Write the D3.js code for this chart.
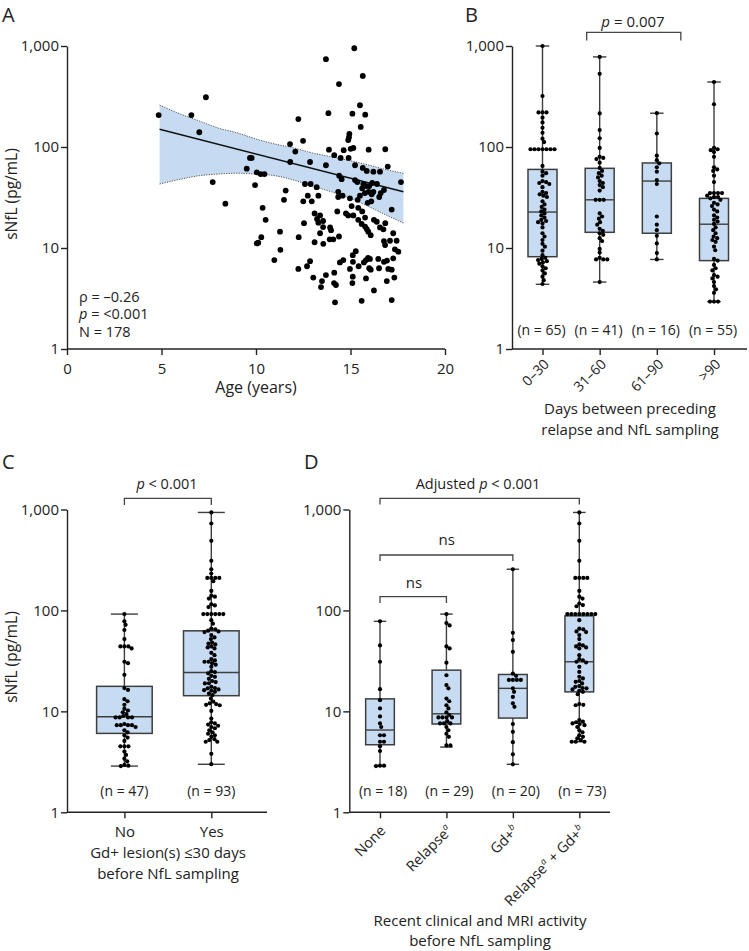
<!DOCTYPE html>
<html><head><meta charset="utf-8">
<script src="https://cdn.jsdelivr.net/npm/d3@7"></script>
<style>
body{margin:0;background:#fff}
svg{display:block}
text{font-family:"Open Sans",sans-serif;fill:#222}
</style>
</head><body>
<svg id="c" width="749" height="951"></svg>
<script>
// ---------------- DATA ----------------
const yTicks = [1, 10, 100, 1000];
const xTicksA = [0, 5, 10, 15, 20];

// Panel A scatter: age (years) and sNfL (pg/mL)
const ageA = [4.85,6.58,7.35,7.0,7.71,8.38,9.51,9.68,9.77,10.04,10.25,10.45,9.95,10.35,10.51,10.28,10.04,10.12,10.97,11.29,
11.27,11.48,11.57,11.8,11.81,12.08,12.24,12.49,12.26,12.24,12.54,12.59,12.89,13.21,12.5,12.74,12.95,13.3,12.86,12.7,
12.86,13.03,13.1,13.1,13.39,13.23,13.3,13.55,13.55,13.39,13.49,13.44,13.7,13.56,13.7,13.83,13.7,14.39,13.86,13.92,
13.97,13.9,14.09,14.18,14.14,14.13,14.23,14.14,14.3,14.35,14.35,14.4,14.53,14.44,14.48,14.64,14.58,14.39,14.62,14.76,
14.88,14.94,14.92,14.88,14.9,15.01,15.15,15.06,15.15,14.97,15.12,15.28,15.13,15.12,15.1,15.1,15.2,15.24,15.24,15.41,
15.41,15.62,15.38,15.5,15.62,15.36,15.68,15.86,15.43,15.5,15.54,15.65,15.65,15.59,15.77,15.86,15.94,16.07,15.59,15.99,
15.76,15.96,16.12,15.82,15.93,15.71,16.03,15.99,16.07,15.78,15.86,15.82,15.96,16.21,16.56,16.21,16.24,16.39,16.24,16.52,
16.6,16.77,16.51,16.47,16.56,16.74,16.84,16.77,16.93,17.0,16.77,16.83,16.84,16.97,17.09,17.18,17.18,16.92,17.32,17.18,
17.26,17.44,17.35,17.53,17.26,17.67,16.15,16.4,16.1,15.91,15.77,14.97];
const nflA = [207,207,311,140,45,27.5,61,78,78,56,54,54,42,25,19,12.8,11.1,11.3,7.6,9.6,
14.5,30,37,107,71,90,189,115,12.8,6.2,17.6,43,43,40,29,33,29,33,71,6.6,
7.4,5.1,11.4,22,21,19.4,17.8,18.5,16.1,14,4.7,4.1,5.4,11,66,216,740,420,94,16,
15,12.2,12.2,2.9,83,4.5,4.3,5.7,23,36,32,52,48,7.2,78,93,33,13,7.6,22,
21,135,125,117,78,96,98,26,21,31,8.5,9.3,7.3,5.2,4.5,214,950,66,47,19,
25,23,30,33,39,45,43,41,6.6,259,158,505,62,17.3,16.3,15.4,14.5,13.4,3.0,41,
35,36,34,7.6,8.0,7.2,7.8,6.3,6.1,209,58,5.0,94,57,57,36,19,18.2,3.8,32,
35,37.5,6.3,7.8,16,15.3,17.6,7.3,7.5,6.2,11.7,10.7,95,64,11.8,24,6.1,4.7,5.1,3.05,
14,11.8,9.7,9.2,7.9,45,44,43,29,28,20,6.2];

// Panel A regression line and confidence band
const fitAge = [4.9, 17.8];
const fitVal = [150, 36];
const bandAge   = [4.9, 6, 7, 8, 9, 10, 11, 12, 13, 14, 15, 16, 17, 17.8];
const bandUpper = [260, 212, 181, 154, 138, 120, 107, 98, 87, 80, 73, 66, 59, 55];
const bandLower = [43, 48, 52, 54, 55, 54, 52, 47, 41, 36, 31, 25.5, 20.7, 17.7];

// Panel B
const catsB = ["0–30", "31–60", "61–90", ">90"];
const nB = [65, 41, 16, 55];
const minB = [4.37, 4.6, 7.7, 2.94];
const q1B  = [8.2, 14.3, 14.0, 7.5];
const medB = [22.7, 30, 46, 17.2];
const q3B  = [60, 61.5, 69.5, 31];
const maxB = [1000, 780, 216, 440];
const dotsB1 = [1000,320,220,220,220,195,175,155,138,121,112,95,95,95,95,95,95,95,65,57,55,52,46,45,44,43,40,36,35,34,33,32,29,27,25.5,24,23,22,21,20,19,18.5,18,17.5,16,14,13,12,11,10.3,9.4,8.5,8,7.8,7.6,7.4,7.2,7,6.6,6.3,6,5.6,5.2,4.8,4.4];
const dotsB2 = [780,530,215,147,122,98,80,78,76,70,62,58,55,52,50,46,44,42,40,37,30,30,30,22,20.5,19.5,18,17,15.5,14.8,14,13.5,12.5,11.7,9.8,9,8,7.7,7.7,7.7,4.6];
const dotsB3 = [216,136,82,74,69,63,57,47,43,20.5,17,15,13.2,11.1,8.9,7.7];
const dotsB4 = [440,265,98,95,93,89,80,63,60,58,52,45,35,35,35,35,33,32,32,31,30,28,27,26,24,23,21,20,19,18.3,17.3,16,15,14,13,12.5,12,11.5,10.3,9.5,7.8,7.5,6.8,6.3,6,5.4,5.2,5,4.6,4.2,3.9,3.6,2.95,2.95,2.95];

// Panel C
const catsC = ["No", "Yes"];
const nC = [47, 93];
const minC = [2.87, 2.99];
const q1C  = [6.05, 14.3];
const medC = [8.84, 24.3];
const q3C  = [17.7, 62.8];
const maxC = [92, 935];
const dotsC1 = [92,78,72,64,52,44,44,44,42,31,30,23,17,16.3,13.2,12.6,11.6,10.6,10.2,9.8,9.4,9.0,8.7,8.7,8.7,8.7,7.5,7.3,7.3,7.3,7.3,7.0,6.5,6.2,5.8,5.5,5.1,4.5,4.5,4.5,4.0,3.7,3.4,3.2,2.95,2.9,2.87];
const dotsC2 = [935,727,489,310,256,232,210,210,210,210,195,156,140,137,131,115,112,108,92,92,92,92,92,92,80,74,66,65,63,62,61,57,54,52,48,47,46,44,43,42,38,36,33,32,31,31,30,29,27.6,25,24.5,23.8,22.5,22,21,20,19.5,19,18.9,17.5,17,16.9,16.5,16.2,16,15.6,15,14.5,13.4,12.5,12,11.8,11.6,11.5,10.1,8.5,7.8,7.6,7.4,7.2,7.0,6.8,6.5,6.2,6.0,5.8,5.6,5.3,5.2,5.0,5.0,3.8,3.0];

// Panel D
const catsD = ["None", "Relapse", "Gd+", "Relapse + Gd+"];
const nD = [18, 29, 20, 73];
const minD = [2.87, 4.43, 2.99, 5.0];
const q1D  = [4.67, 7.5, 8.58, 15.6];
const medD = [6.53, 9.46, 16.9, 31];
const q3D  = [13.3, 25.6, 23.2, 88.4];
const maxD = [78, 92, 256, 935];
const dotsD1 = [78,45,31,16.6,12.9,10.7,8.9,7.6,7.0,5.8,5.8,5.0,5.0,4.5,4.05,2.9,2.9,2.87];
const dotsD2 = [92,75,71,44,42,30.4,22.8,18.2,16.9,13.4,12.6,11.5,10.7,9.8,9.2,8.7,8.7,8.7,8.7,8.0,7.6,7.6,7.6,7.0,6.5,6.0,5.6,4.6,4.6];
const dotsD3 = [256,60,50.8,38.9,23.7,22.5,20.5,20.5,20.5,20.5,16.9,15.6,13.9,12,11.1,7.5,6.27,4.95,3.75,2.99];
const dotsD4 = [935,727,489,310,210,210,210,210,156,137,131,117,113,110,92,92,92,92,92,92,92,92,80,66,65,62,61,57,52,46,45,44,43,42,36,33,32,31,30.5,27.6,24.6,22,21.2,20,19.6,18.9,17.8,17.5,17,16.9,16.5,16,15.6,14.8,11.8,11.6,11.5,8.2,7.9,7.8,7.6,7.5,7.3,7.0,6.5,6.2,5.8,5.6,5.4,5.2,5.0,5.0,5.0];

// ---------------- DRAWING ----------------
const svg = d3.select("#c");
const INK = "#222";
const BOX_FILL = "#c7dcf2";
const BOX_STROKE = "#3e3e3e";
const FONT = '"Open Sans", sans-serif';

function styleAxis(g, fs) {
  g.attr("font-family", FONT).attr("font-size", fs);
  g.selectAll("path,line").attr("stroke", INK).attr("stroke-width", 1.4);
  g.selectAll("text").attr("fill", INK);
}
function yAxis(y, x0) {
  const g = svg.append("g").attr("transform", `translate(${x0},0)`)
    .call(d3.axisLeft(y).tickValues(yTicks).tickFormat(d3.format(",")).tickSize(6).tickPadding(2).tickSizeOuter(0));
  styleAxis(g, 15);
  return g;
}
function xBaseLine(x1, x2, y0) {
  svg.append("line").attr("x1", x1).attr("x2", x2).attr("y1", y0).attr("y2", y0)
    .attr("stroke", INK).attr("stroke-width", 1.4);
}
function label(x, y, txt, opts = {}) {
  return svg.append("text").attr("x", x).attr("y", y).attr("text-anchor", opts.anchor || "middle")
    .attr("font-size", opts.size || 15).text(txt);
}
function swarm(vals, y, cx, minD) {
  const pts = vals.map(v => ({ v, py: y(v) })).sort((a, b) => a.py - b.py);
  const placed = [];
  for (const p of pts) {
    let px = cx;
    for (let k = 0; k < 400; k++) {
      const off = k === 0 ? 0 : (k % 2 ? 1 : -1) * Math.ceil(k / 2) * 0.4;
      const x = cx + off;
      let ok = true;
      for (const q of placed) {
        const dy = q.py - p.py;
        if (Math.abs(dy) < minD) {
          const dx = q.x - x;
          if (dx * dx + dy * dy < minD * minD) { ok = false; break; }
        }
      }
      if (ok) { px = x; break; }
    }
    p.x = px; placed.push(p);
  }
  return placed;
}
function boxes(x, y, cats, mins, q1s, meds, q3s, maxs, dotSets, bw, cw) {
  cats.forEach((c, i) => {
    const cx = x(c);
    const g = svg.append("g");
    g.append("line").attr("x1", cx).attr("x2", cx).attr("y1", y(maxs[i])).attr("y2", y(mins[i]))
      .attr("stroke", BOX_STROKE).attr("stroke-width", 1.4);
    [mins[i], maxs[i]].forEach(v => g.append("line").attr("x1", cx - cw / 2).attr("x2", cx + cw / 2)
      .attr("y1", y(v)).attr("y2", y(v)).attr("stroke", BOX_STROKE).attr("stroke-width", 1.4));
    g.append("rect").attr("x", cx - bw / 2).attr("width", bw).attr("y", y(q3s[i]))
      .attr("height", y(q1s[i]) - y(q3s[i])).attr("fill", BOX_FILL).attr("stroke", BOX_STROKE).attr("stroke-width", 1.5);
    g.append("line").attr("x1", cx - bw / 2).attr("x2", cx + bw / 2).attr("y1", y(meds[i])).attr("y2", y(meds[i]))
      .attr("stroke", BOX_STROKE).attr("stroke-width", 1.4);
    const pts = swarm(dotSets[i], y, cx, 3.7);
    g.selectAll("circle.d").data(pts).enter().append("circle")
      .attr("cx", d => d.x).attr("cy", d => d.py).attr("r", 2.1).attr("fill", "#000");
  });
}
function bracket(x1, x2, yTop, yLeg) {
  svg.append("path").attr("d", `M${x1},${yLeg}V${yTop}H${x2}V${yLeg}`)
    .attr("fill", "none").attr("stroke", "#444").attr("stroke-width", 1.3);
}
function pText(x, y, pre, post, size) {
  const t = svg.append("text").attr("x", x).attr("y", y).attr("text-anchor", "middle").attr("font-size", size);
  if (pre) t.append("tspan").text(pre);
  t.append("tspan").attr("font-style", "italic").text("p");
  t.append("tspan").text(post);
  return t;
}

// ---- Panel A ----
const xA = d3.scaleLinear().domain([0, 20]).range([67, 445]);
const yA = d3.scaleLog().domain([1, 1000]).range([349, 46]);
const area = d3.area().x((d, i) => xA(bandAge[i])).y0((d, i) => yA(bandLower[i])).y1((d, i) => yA(bandUpper[i])).curve(d3.curveMonotoneX);
svg.append("path").attr("d", area(bandAge)).attr("fill", "#c6dbf1");
const edge = arr => d3.line().x((d, i) => xA(bandAge[i])).y((d, i) => yA(arr[i])).curve(d3.curveMonotoneX)(bandAge);
[bandUpper, bandLower].forEach(arr => svg.append("path").attr("d", edge(arr)).attr("fill", "none")
  .attr("stroke", "#555").attr("stroke-width", 1).attr("stroke-dasharray", "1.2,1.3"));
svg.append("line").attr("x1", xA(fitAge[0])).attr("x2", xA(fitAge[1])).attr("y1", yA(fitVal[0])).attr("y2", yA(fitVal[1]))
  .attr("stroke", "#111").attr("stroke-width", 1.5);
svg.append("g").selectAll("circle").data(ageA).enter().append("circle")
  .attr("cx", d => xA(d)).attr("cy", (d, i) => yA(nflA[i])).attr("r", 2.9).attr("fill", "#000");
yAxis(yA, 67);
xBaseLine(67, 445, 349);
const gxA = svg.append("g").attr("transform", "translate(0,349)")
  .call(d3.axisBottom(xA).tickValues(xTicksA).tickSize(6).tickPadding(8).tickSizeOuter(0));
gxA.select(".domain").remove();
styleAxis(gxA, 15);
label(256, 393, "Age (years)", { size: 16 });
svg.append("text").attr("transform", "translate(17,194) rotate(-90)").attr("text-anchor", "middle")
  .attr("font-size", 15.5).text("sNfL (pg/mL)");
label(2, 22, "A", { anchor: "start", size: 20 });
label(79, 301.5, "ρ = –0.26", { anchor: "start", size: 14.5 });
const pa = svg.append("text").attr("x", 79).attr("y", 319.3).attr("font-size", 14.5);
pa.append("tspan").attr("font-style", "italic").text("p");
pa.append("tspan").text(" = <0.001");
label(79, 337.2, "N = 178", { anchor: "start", size: 14.5 });

// ---- Panel B ----
const yB = d3.scaleLog().domain([1, 1000]).range([349, 46]);
const xB = d3.scalePoint().domain(catsB).range([542.5, 714]);
boxes(xB, yB, catsB, minB, q1B, medB, q3B, maxB, [dotsB1, dotsB2, dotsB3, dotsB4], 29, 13.5);
yAxis(yB, 512);
xBaseLine(512, 747, 349);
const gxB = svg.append("g").attr("transform", "translate(0,349)")
  .call(d3.axisBottom(xB).tickSize(6).tickSizeOuter(0).tickFormat(""));
gxB.select(".domain").remove();
styleAxis(gxB, 14);
catsB.forEach(c => svg.append("text").attr("transform", `translate(${xB(c) + 4},${361.5}) rotate(-45)`)
  .attr("text-anchor", "end").attr("dy", "0.35em").attr("font-size", 14).text(c));
catsB.forEach((c, i) => label(xB(c) - 1, 334.5, `(n = ${nB[i]})`, { size: 14 }));
label(630, 414, "Days between preceding", { size: 15 });
label(630, 434.5, "relapse and NfL sampling", { size: 15 });
label(465, 22, "B", { anchor: "start", size: 20 });
bracket(xB(catsB[1]) - 13, xB(catsB[2]) + 24, 32.3, 40.5);
pText(633, 27, "", " = 0.007", 15);

// ---- Panel C ----
const yC = d3.scaleLog().domain([1, 1000]).range([812.3, 509.5]);
const xC = d3.scalePoint().domain(catsC).range([124.4, 211.3]);
boxes(xC, yC, catsC, minC, q1C, medC, q3C, maxC, [dotsC1, dotsC2], 55.6, 27);
yAxis(yC, 67);
xBaseLine(67, 267, 812.3);
const gxC = svg.append("g").attr("transform", "translate(0,812.3)")
  .call(d3.axisBottom(xC).tickSize(6).tickPadding(8).tickSizeOuter(0));
gxC.select(".domain").remove();
styleAxis(gxC, 15);
catsC.forEach((c, i) => label(xC(c), 796, `(n = ${nC[i]})`, { size: 14 }));
label(168, 858, "Gd+ lesion(s) ≤30 days", { size: 15 });
label(168, 878.5, "before NfL sampling", { size: 15 });
svg.append("text").attr("transform", "translate(17,657) rotate(-90)").attr("text-anchor", "middle")
  .attr("font-size", 15.5).text("sNfL (pg/mL)");
label(2, 469, "C", { anchor: "start", size: 20 });
bracket(xC("No"), xC("Yes"), 498.3, 505);
pText(167, 488.5, "", " < 0.001", 14.5);

// ---- Panel D ----
const yD = d3.scaleLog().domain([1, 1000]).range([812.3, 509.5]);
const xD = d3.scalePoint().domain(catsD).range([380, 579.3]);
boxes(xD, yD, catsD, minD, q1D, medD, q3D, maxD, [dotsD1, dotsD2, dotsD3, dotsD4], 28.7, 12.5);
yAxis(yD, 349.3);
xBaseLine(349.3, 610, 812.3);
const gxD = svg.append("g").attr("transform", "translate(0,812.3)")
  .call(d3.axisBottom(xD).tickSize(6).tickSizeOuter(0).tickFormat(""));
gxD.select(".domain").remove();
styleAxis(gxD, 14);
catsD.forEach(c => {
  const t = svg.append("text").attr("transform", `translate(${xD(c) + 3},${828}) rotate(-45)`)
    .attr("text-anchor", "end").attr("dy", "0.35em").attr("font-size", 14.5);
  const sup = s => t.append("tspan").attr("baseline-shift", "super").attr("font-size", 9).attr("font-style", "italic").text(s);
  if (c === "None") t.append("tspan").text("None");
  else if (c === "Relapse") { t.append("tspan").text("Relapse"); sup("a"); }
  else if (c === "Gd+") { t.append("tspan").text("Gd+"); sup("b"); }
  else { t.append("tspan").text("Relapse"); sup("a"); t.append("tspan").text(" + Gd+"); sup("b"); }
});
catsD.forEach((c, i) => label(xD(c) + 3, 796, `(n = ${nD[i]})`, { size: 14 }));
label(480, 925.5, "Recent clinical and MRI activity", { size: 15 });
label(480, 946, "before NfL sampling", { size: 15 });
label(304, 469, "D", { anchor: "start", size: 20 });
bracket(xD(catsD[0]), xD(catsD[3]), 498.3, 504.5);
pText(478, 488.5, "Adjusted ", " < 0.001", 14.5);
bracket(xD(catsD[0]), xD(catsD[2]), 555, 561);
label(446.7, 545, "ns", { size: 15 });
bracket(xD(catsD[0]), xD(catsD[1]), 596.7, 603);
label(414, 588, "ns", { size: 15 });
</script>
</body></html>
